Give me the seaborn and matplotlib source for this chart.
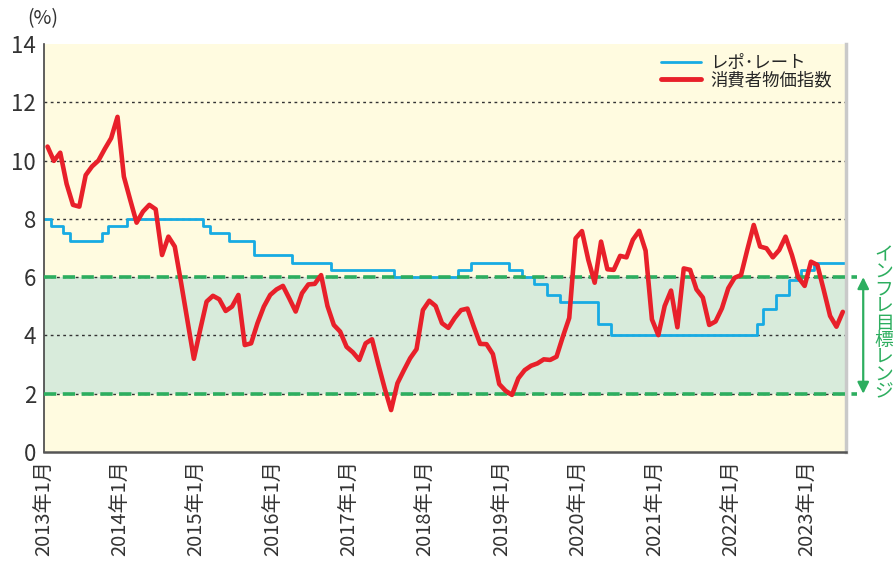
import numpy as np
import pandas as pd
import matplotlib
matplotlib.use('Agg')
import matplotlib.pyplot as plt
import matplotlib.transforms as mtransforms
from matplotlib.lines import Line2D
import seaborn as sns

# 消費者物価指数 (前年同月比, %) 2013年1月〜2023年6月
cpi_start = '2013-01'
cpi = [10.48, 9.99, 10.27, 9.2, 8.48, 8.42, 9.5, 9.8, 10.0, 10.4,
       10.77, 11.5, 9.45, 8.65, 7.87, 8.25, 8.48, 8.33, 6.76, 7.39,
       7.05, 5.8, 4.5, 3.2, 4.2, 5.16, 5.36, 5.24, 4.84, 4.99,
       5.39, 3.67, 3.73, 4.42, 4.99, 5.39, 5.58, 5.70, 5.27, 4.82,
       5.45, 5.75, 5.77, 6.07, 5.01, 4.36, 4.13, 3.61, 3.42, 3.16,
       3.73, 3.87, 3.0, 2.18, 1.44, 2.36, 2.8, 3.22, 3.53, 4.87,
       5.19, 5.01, 4.42, 4.26, 4.6, 4.87, 4.92, 4.30, 3.71, 3.70,
       3.36, 2.33, 2.10, 1.96, 2.53, 2.81, 2.96, 3.04, 3.18, 3.16,
       3.27, 3.96, 4.6, 7.33, 7.58, 6.59, 5.81, 7.22, 6.27, 6.25,
       6.73, 6.68, 7.28, 7.59, 6.91, 4.55, 4.01, 5.01, 5.54, 4.28,
       6.30, 6.25, 5.58, 5.30, 4.36, 4.48, 4.93, 5.62, 5.98, 6.07,
       6.95, 7.79, 7.05, 6.99, 6.68, 6.93, 7.39, 6.76, 5.99, 5.70,
       6.53, 6.42, 5.56, 4.67, 4.30, 4.81]

# レポ・レート: 変更月と新しい水準 (%)
repo_month = ['2013-01', '2013-02', '2013-04', '2013-05', '2013-10', '2013-11',
              '2014-02', '2015-02', '2015-03', '2015-06', '2015-10', '2016-04',
              '2016-10', '2017-08', '2018-06', '2018-08', '2019-02', '2019-04',
              '2019-06', '2019-08', '2019-10', '2020-04', '2020-06', '2022-05',
              '2022-06', '2022-08', '2022-10', '2022-12', '2023-02']
repo_rate = [8.0, 7.75, 7.5, 7.25, 7.5, 7.75,
             8.0, 7.75, 7.5, 7.25, 6.75, 6.5,
             6.25, 6.0, 6.25, 6.5, 6.25, 6.0,
             5.75, 5.4, 5.15, 4.4, 4.0, 4.4,
             4.9, 5.4, 5.9, 6.25, 6.5]
repo_end = '2023-07'

tick_years = list(range(2013, 2024))
tick_labels = [f'{y}年1月' for y in tick_years]
target_low, target_high = 2, 6
target_label = 'インフレ目標レンジ'

base = pd.Period('2013-01', freq='M')


def month_pos(p):
    return (pd.Period(p, freq='M') - base).n


cpi_df = pd.DataFrame({'x': np.arange(len(cpi)) + 0.5, 'cpi': cpi})
repo_df = pd.DataFrame({
    'x': [month_pos(m) for m in repo_month] + [month_pos(repo_end)],
    'rate': repo_rate + [repo_rate[-1]],
})

sns.set_style('white')
plt.rcParams['font.family'] = ['Noto Sans CJK JP', 'DejaVu Sans']

blue = '#17ABE3'
red = '#E8202A'
green = '#2DAE5F'

fig = plt.figure(figsize=(8.94, 5.62), dpi=100)
ax = fig.add_axes([0.0496, 0.1957, 0.8967, 0.726])
ax.set_facecolor('#FFFBE0')

ax.axhspan(target_low, target_high, color='#D8EBDB', zorder=0.5, lw=0)
for y in [2, 4, 6, 8, 10, 12]:
    ax.axhline(y, color='#333333', lw=1, ls=(0, (2, 2.5)), zorder=0.8)

sns.lineplot(data=repo_df, x='x', y='rate', ax=ax, color=blue, lw=2,
             drawstyle='steps-post', zorder=2)

for y in [target_low, target_high]:
    ax.axhline(y, xmax=1.014, color=green, lw=2.6, ls=(0, (3.4, 1.8)),
               zorder=3, clip_on=False)

sns.lineplot(data=cpi_df, x='x', y='cpi', ax=ax, color=red, lw=3.3, zorder=4)

ax.set_xlim(0, month_pos(repo_end))
ax.set_ylim(0, 14)
ax.set_yticks(range(0, 15, 2))
ax.set_xticks([month_pos(f'{y}-01') for y in tick_years])
ax.set_xticklabels(tick_labels, rotation=90, fontsize=14.5)
ax.tick_params(axis='y', labelsize=16, length=0, pad=6, colors='#333333')
ax.tick_params(axis='x', direction='in', length=4, color='#555555',
               labelcolor='#333333', pad=6)
ax.set_xlabel('')
ax.set_ylabel('')

ax.spines['top'].set_visible(False)
ax.spines['left'].set_color('#444444')
ax.spines['left'].set_linewidth(1.2)
ax.spines['bottom'].set_color('#555555')
ax.spines['bottom'].set_linewidth(1.8)
ax.spines['right'].set_color('#C9C9C9')
ax.spines['right'].set_linewidth(2.5)

fig.text(0.03, 0.966, '(%)', fontsize=14, color='#333333', ha='left', va='center')

handles = [Line2D([], [], color=blue, lw=2), Line2D([], [], color=red, lw=3.5)]
ax.legend(handles, ['レポ･レート', '消費者物価指数'], loc='upper right',
          frameon=False, fontsize=12.5, handlelength=2.3, handletextpad=0.5,
          labelspacing=-0.08, borderaxespad=0.2, bbox_to_anchor=(0.995, 1.0))

# インフレ目標レンジ の矢印と縦書き
trans = mtransforms.blended_transform_factory(ax.transAxes, ax.transData)
ax.annotate('', xy=(1.0215, target_low), xytext=(1.0215, target_high),
            xycoords=trans, textcoords=trans,
            arrowprops=dict(arrowstyle='<|-|>', color=green, lw=1.6,
                            mutation_scale=17, shrinkA=0, shrinkB=0),
            annotation_clip=False)
fig.text(884 / 894, 0.4246, '\n'.join(target_label), fontsize=13.5,
         color=green, ha='center', va='center', linespacing=0.757)

fig.savefig('out.png', dpi=100, facecolor='white')
